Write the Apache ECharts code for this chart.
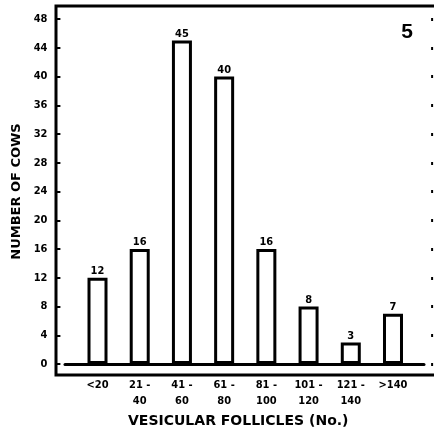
<!DOCTYPE html>
<html>
<head>
<meta charset="utf-8">
<script src="https://cdn.jsdelivr.net/npm/echarts@6/dist/echarts.min.js"></script>
<style>html,body{margin:0;padding:0;background:#fff}#c{width:434px;height:427px}</style>
</head>
<body>
<div id="c"></div>
<script>
var categories = ['<20', '21 -\n40', '41 -\n60', '61 -\n80', '81 -\n100', '101 -\n120', '121 -\n140', '>140'];
var cows = [12, 16, 45, 40, 16, 8, 3, 7];
var yMin = 0, yMax = 48, yStep = 4;
var panelLabel = '5';
var xName = 'VESICULAR FOLLICLES (No.)';
var yName = 'NUMBER OF COWS';

var narrow = "'Liberation Sans Narrow', 'DejaVu Sans Condensed', 'Roboto', sans-serif";
var chart = echarts.init(document.getElementById('c'), null, {renderer: 'canvas'});
chart.setOption({
  animation: false,
  backgroundColor: '#fff',
  title: {
    text: panelLabel, right: 16, top: 17,
    textStyle: {fontFamily: "'Liberation Sans', Arial, sans-serif", fontWeight: 'bold', fontSize: 21, color: '#000'}
  },
  grid: [
    {left: 76.4, right: 19.9, top: 19, bottom: 63, outerBoundsMode: 'none', containLabel: false},
    {left: 65, right: 10, top: 19, bottom: 63, outerBoundsMode: 'none', containLabel: false},
    {left: 56, right: -10, top: 6, bottom: 52, outerBoundsMode: 'none', containLabel: false, show: true, borderColor: '#000', borderWidth: 3, backgroundColor: 'transparent', z: 0}
  ],
  xAxis: [
    {
      type: 'category', gridIndex: 0, data: categories,
      axisLine: {show: false}, axisTick: {show: false},
      axisLabel: {interval: 0, margin: 13, color: '#000', fontFamily: narrow, fontWeight: 'bold', fontSize: 11, lineHeight: 16},
      name: xName, nameLocation: 'middle', nameGap: 44,
      nameTextStyle: {fontFamily: "'DejaVu Sans', sans-serif", fontWeight: 'bold', fontSize: 14, color: '#000', padding: [0, 14, 0, 0]}
    },
    {
      type: 'value', gridIndex: 1, min: 0, max: 1,
      axisLine: {show: true, lineStyle: {color: '#000', width: 3}},
      axisTick: {show: false}, axisLabel: {show: false}, splitLine: {show: false}
    },
    {
      type: 'value', gridIndex: 2, min: 0, max: 1, show: false
    }
  ],
  yAxis: [
    {
      type: 'value', gridIndex: 0, min: yMin, max: yMax, interval: yStep, offset: 20,
      axisLine: {show: false},
      axisTick: {show: true, inside: true, length: 4, lineStyle: {color: '#000', width: 2}},
      axisLabel: {margin: 9, color: '#000', fontFamily: narrow, fontWeight: 'bold', fontSize: 11},
      splitLine: {show: false},
      name: yName, nameLocation: 'middle', nameRotate: 90, nameGap: 32,
      nameTextStyle: {fontFamily: "'DejaVu Sans', sans-serif", fontWeight: 'bold', fontSize: 13, color: '#000', padding: [0, 0, 0, 0]}
    },
    {
      type: 'value', gridIndex: 0, position: 'right', min: yMin, max: yMax, interval: yStep, offset: 17,
      axisLine: {show: false},
      axisTick: {show: true, length: 2, lineStyle: {color: '#000', width: 3}},
      axisLabel: {show: false}, splitLine: {show: false}
    },
    {type: 'value', gridIndex: 1, min: 0, max: 1, show: false},
    {type: 'value', gridIndex: 2, min: 0, max: 1, show: false}
  ],
  series: [{
    type: 'bar', xAxisIndex: 0, yAxisIndex: 0, data: cows, barWidth: 20,
    itemStyle: {color: '#fff', borderColor: '#000', borderWidth: 3},
    label: {show: true, position: 'top', distance: 1, color: '#000', fontFamily: narrow, fontWeight: 'bold', fontSize: 11},
    z: 5
  }]
});
</script>
</body>
</html>
